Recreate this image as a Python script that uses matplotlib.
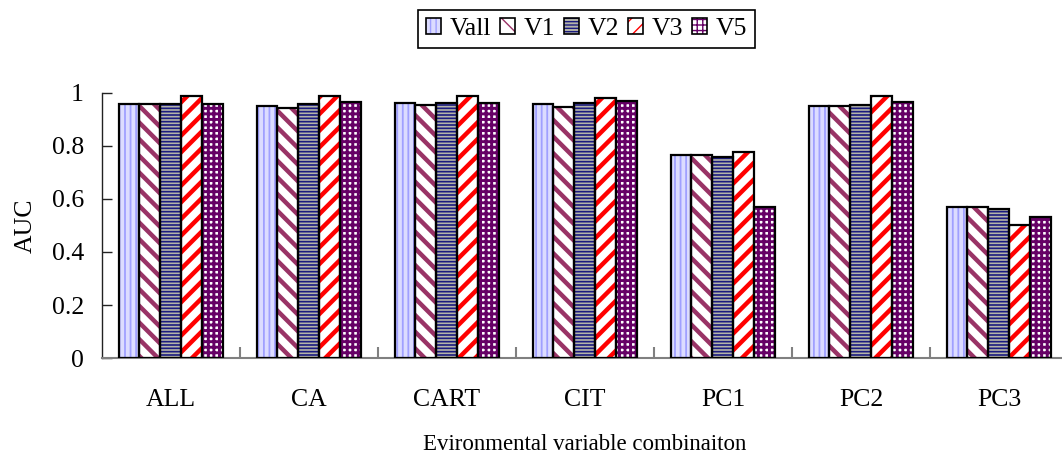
import matplotlib
matplotlib.use("Agg")
import matplotlib.pyplot as plt
import numpy as np
from matplotlib.legend_handler import HandlerTuple
from matplotlib.patches import Rectangle

plt.rcParams["font.family"] = ["Liberation Serif", "DejaVu Serif"]

categories = ["ALL", "CA", "CART", "CIT", "PC1", "PC2", "PC3"]
series_names = ["Vall", "V1", "V2", "V3", "V5"]
vall = [0.957, 0.950, 0.963, 0.957, 0.765, 0.950, 0.569]
v1 = [0.957, 0.943, 0.955, 0.948, 0.765, 0.950, 0.569]
v2 = [0.957, 0.957, 0.963, 0.963, 0.760, 0.956, 0.562]
v3 = [0.989, 0.989, 0.989, 0.981, 0.778, 0.989, 0.502]
v5 = [0.957, 0.966, 0.961, 0.970, 0.569, 0.967, 0.532]
series_values = [vall, v1, v2, v3, v5]

# (face colour, hatch pattern, hatch colour, hatch line width)
styles = [
    ("#dcdcff", "|||", "#a0a0ff", 1.3),
    ("white", "\\\\", "#993366", 3.2),
    ("#b4b4a8", "-----", "#1a1a80", 1.2),
    ("white", "//", "#ff0000", 3.2),
    ("white", "+++", "#660066", 2.1),
]

fig = plt.figure(figsize=(10.62, 4.57), dpi=100)
ax = fig.add_axes([0.096, 0.2166, 0.9096, 0.58])

x = np.arange(len(categories))
bar_w = 0.152
n = len(series_names)
handles = []
for i, (name, vals, (fc, hatch, hc, hlw)) in enumerate(zip(series_names, series_values, styles)):
    pos = x + (i - (n - 1) / 2) * bar_w
    with plt.rc_context({"hatch.linewidth": hlw}):
        ax.bar(pos, vals, width=bar_w, facecolor=fc, edgecolor=hc,
               hatch=hatch, linewidth=0, zorder=2)
        ax.bar(pos, vals, width=bar_w, fill=False, edgecolor="black",
               linewidth=1.6, zorder=3)
        h_fill = Rectangle((0, 0), 1, 1, facecolor=fc, edgecolor=hc,
                           hatch=hatch, linewidth=0)
    h_edge = Rectangle((0, 0), 1, 1, fill=False, edgecolor="black", linewidth=1.2)
    handles.append((h_fill, h_edge))

ax.set_xlim(-0.5, len(categories) - 0.5)
ax.set_ylim(0, 1)
ax.set_yticks([0, 0.2, 0.4, 0.6, 0.8, 1])
ax.set_yticklabels(["0", "0.2", "0.4", "0.6", "0.8", "1"])
ax.set_xticks(x)
ax.set_xticklabels(categories)
ax.set_xticks(np.arange(len(categories)) + 0.5, minor=True)

ax.spines["top"].set_visible(False)
ax.spines["right"].set_visible(False)
ax.spines["left"].set_color("#222222")
ax.spines["left"].set_linewidth(1.0)
ax.spines["bottom"].set_color("#808080")
ax.spines["bottom"].set_linewidth(1.5)

fs = 18.5
ax.tick_params(axis="y", direction="in", length=7, width=1.0, color="#222222",
               labelsize=fs, pad=13)
ax.tick_params(axis="x", which="major", length=0, labelsize=fs, pad=22)
ax.tick_params(axis="x", which="minor", direction="in", length=8, width=1.5,
               color="#808080")

ax.set_ylabel("AUC", fontsize=fs)
ax.yaxis.set_label_coords(-0.068, 0.5)
ax.set_xlabel("Evironmental variable combinaiton", fontsize=16.5)
ax.xaxis.set_label_coords(0.5, -0.287)

leg = fig.legend(handles, series_names, loc="center",
                 bbox_to_anchor=(586.5 / 1062, 1 - 29 / 457), ncol=5,
                 handler_map={tuple: HandlerTuple(ndivide=1)},
                 fontsize=fs, frameon=True, fancybox=False, edgecolor="black",
                 framealpha=1, handlelength=0.58, handleheight=0.58,
                 handletextpad=0.33, columnspacing=0.36, borderpad=0.3,
                 borderaxespad=0)
leg.get_frame().set_linewidth(1.2)

fig.savefig("out.png", dpi=100)
